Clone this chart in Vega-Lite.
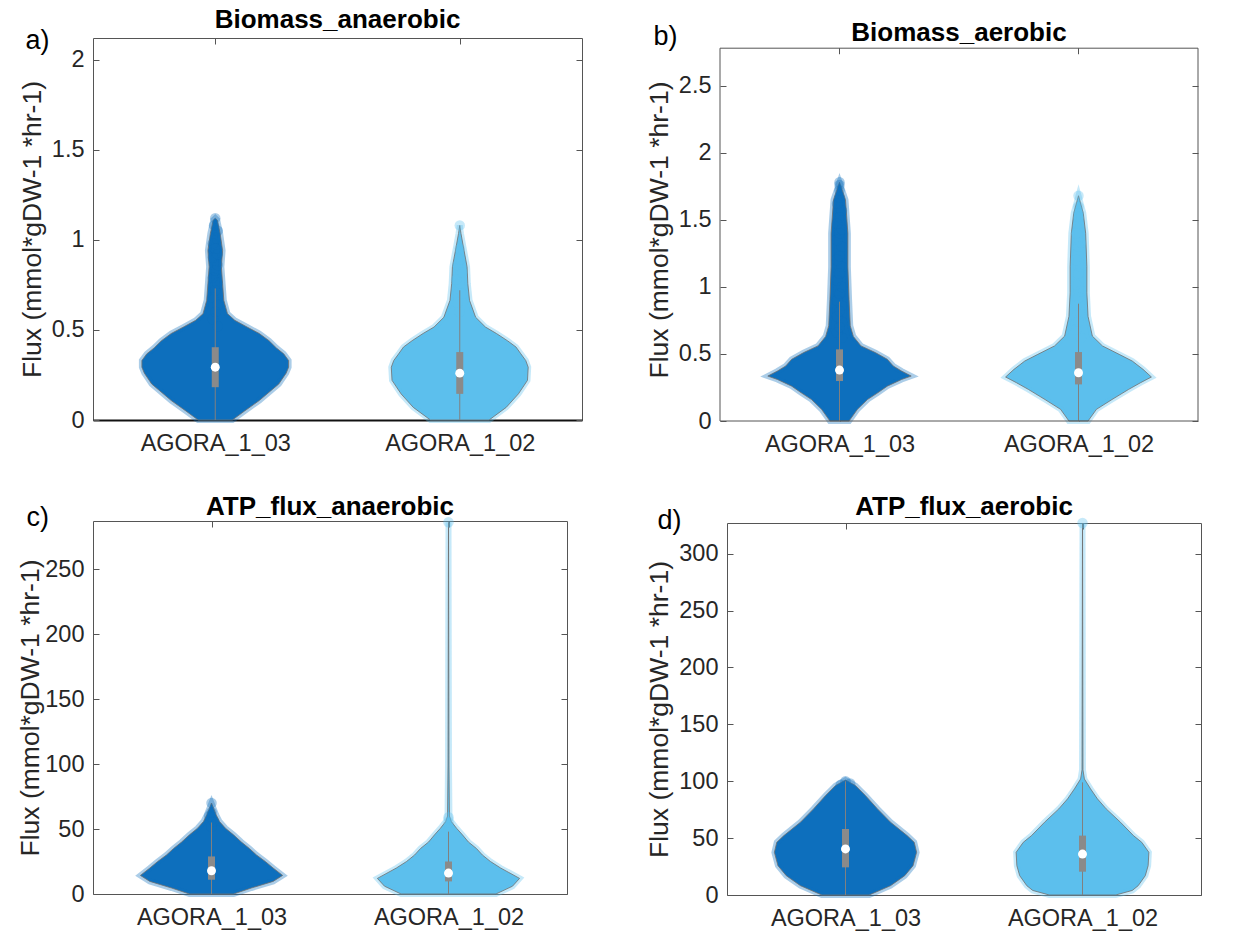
{
"$schema": "https://vega.github.io/schema/vega-lite/v6.json",
"background": "white",
"padding": {"left": 17, "top": 6, "right": 5, "bottom": 3},
"columns": 2,
"align": "none",
"spacing": {"row": 37, "column": 63},
"datasets": {
"violin": [
{"p":"a","g":"AGORA_1_03","y":0,"lo":0.93,"hi":1.07},
{"p":"a","g":"AGORA_1_03","y":0.05,"lo":0.88,"hi":1.12},
{"p":"a","g":"AGORA_1_03","y":0.108,"lo":0.82,"hi":1.18},
{"p":"a","g":"AGORA_1_03","y":0.2,"lo":0.74,"hi":1.26},
{"p":"a","g":"AGORA_1_03","y":0.26,"lo":0.71,"hi":1.29},
{"p":"a","g":"AGORA_1_03","y":0.293,"lo":0.70,"hi":1.30},
{"p":"a","g":"AGORA_1_03","y":0.33,"lo":0.70,"hi":1.30},
{"p":"a","g":"AGORA_1_03","y":0.367,"lo":0.72,"hi":1.28},
{"p":"a","g":"AGORA_1_03","y":0.40,"lo":0.75,"hi":1.25},
{"p":"a","g":"AGORA_1_03","y":0.44,"lo":0.78,"hi":1.22},
{"p":"a","g":"AGORA_1_03","y":0.48,"lo":0.82,"hi":1.18},
{"p":"a","g":"AGORA_1_03","y":0.516,"lo":0.87,"hi":1.13},
{"p":"a","g":"AGORA_1_03","y":0.553,"lo":0.92,"hi":1.08},
{"p":"a","g":"AGORA_1_03","y":0.59,"lo":0.95,"hi":1.05},
{"p":"a","g":"AGORA_1_03","y":0.664,"lo":0.965,"hi":1.035},
{"p":"a","g":"AGORA_1_03","y":0.757,"lo":0.97,"hi":1.03},
{"p":"a","g":"AGORA_1_03","y":0.85,"lo":0.975,"hi":1.025},
{"p":"a","g":"AGORA_1_03","y":0.94,"lo":0.97,"hi":1.03},
{"p":"a","g":"AGORA_1_03","y":1.035,"lo":0.98,"hi":1.02},
{"p":"a","g":"AGORA_1_03","y":1.11,"lo":0.992,"hi":1.008},
{"p":"a","g":"AGORA_1_03","y":1.12,"lo":1,"hi":1},
{"p":"a","g":"AGORA_1_02","y":0,"lo":1.88,"hi":2.12},
{"p":"a","g":"AGORA_1_02","y":0.07,"lo":1.81,"hi":2.19},
{"p":"a","g":"AGORA_1_02","y":0.145,"lo":1.76,"hi":2.24},
{"p":"a","g":"AGORA_1_02","y":0.22,"lo":1.723,"hi":2.277},
{"p":"a","g":"AGORA_1_02","y":0.293,"lo":1.72,"hi":2.28},
{"p":"a","g":"AGORA_1_02","y":0.33,"lo":1.73,"hi":2.27},
{"p":"a","g":"AGORA_1_02","y":0.367,"lo":1.75,"hi":2.25},
{"p":"a","g":"AGORA_1_02","y":0.405,"lo":1.77,"hi":2.23},
{"p":"a","g":"AGORA_1_02","y":0.44,"lo":1.805,"hi":2.195},
{"p":"a","g":"AGORA_1_02","y":0.48,"lo":1.85,"hi":2.15},
{"p":"a","g":"AGORA_1_02","y":0.516,"lo":1.895,"hi":2.105},
{"p":"a","g":"AGORA_1_02","y":0.57,"lo":1.935,"hi":2.065},
{"p":"a","g":"AGORA_1_02","y":0.664,"lo":1.96,"hi":2.04},
{"p":"a","g":"AGORA_1_02","y":0.757,"lo":1.967,"hi":2.033},
{"p":"a","g":"AGORA_1_02","y":0.85,"lo":1.97,"hi":2.03},
{"p":"a","g":"AGORA_1_02","y":0.96,"lo":1.985,"hi":2.015},
{"p":"a","g":"AGORA_1_02","y":1.035,"lo":1.995,"hi":2.005},
{"p":"a","g":"AGORA_1_02","y":1.08,"lo":2,"hi":2},
{"p":"b","g":"AGORA_1_03","y":0,"lo":0.96,"hi":1.04},
{"p":"b","g":"AGORA_1_03","y":0.087,"lo":0.925,"hi":1.075},
{"p":"b","g":"AGORA_1_03","y":0.16,"lo":0.883,"hi":1.117},
{"p":"b","g":"AGORA_1_03","y":0.21,"lo":0.84,"hi":1.16},
{"p":"b","g":"AGORA_1_03","y":0.26,"lo":0.8,"hi":1.2},
{"p":"b","g":"AGORA_1_03","y":0.31,"lo":0.74,"hi":1.26},
{"p":"b","g":"AGORA_1_03","y":0.335,"lo":0.70,"hi":1.30},
{"p":"b","g":"AGORA_1_03","y":0.372,"lo":0.74,"hi":1.26},
{"p":"b","g":"AGORA_1_03","y":0.41,"lo":0.775,"hi":1.225},
{"p":"b","g":"AGORA_1_03","y":0.46,"lo":0.8,"hi":1.2},
{"p":"b","g":"AGORA_1_03","y":0.51,"lo":0.85,"hi":1.15},
{"p":"b","g":"AGORA_1_03","y":0.56,"lo":0.91,"hi":1.09},
{"p":"b","g":"AGORA_1_03","y":0.63,"lo":0.942,"hi":1.058},
{"p":"b","g":"AGORA_1_03","y":0.71,"lo":0.955,"hi":1.045},
{"p":"b","g":"AGORA_1_03","y":0.906,"lo":0.96,"hi":1.04},
{"p":"b","g":"AGORA_1_03","y":1.15,"lo":0.965,"hi":1.035},
{"p":"b","g":"AGORA_1_03","y":1.40,"lo":0.965,"hi":1.035},
{"p":"b","g":"AGORA_1_03","y":1.65,"lo":0.975,"hi":1.025},
{"p":"b","g":"AGORA_1_03","y":1.78,"lo":1,"hi":1},
{"p":"b","g":"AGORA_1_02","y":0,"lo":1.96,"hi":2.04},
{"p":"b","g":"AGORA_1_02","y":0.087,"lo":1.925,"hi":2.075},
{"p":"b","g":"AGORA_1_02","y":0.16,"lo":1.86,"hi":2.14},
{"p":"b","g":"AGORA_1_02","y":0.236,"lo":1.79,"hi":2.21},
{"p":"b","g":"AGORA_1_02","y":0.286,"lo":1.74,"hi":2.26},
{"p":"b","g":"AGORA_1_02","y":0.328,"lo":1.695,"hi":2.305},
{"p":"b","g":"AGORA_1_02","y":0.385,"lo":1.73,"hi":2.27},
{"p":"b","g":"AGORA_1_02","y":0.447,"lo":1.775,"hi":2.225},
{"p":"b","g":"AGORA_1_02","y":0.497,"lo":1.83,"hi":2.17},
{"p":"b","g":"AGORA_1_02","y":0.56,"lo":1.9,"hi":2.1},
{"p":"b","g":"AGORA_1_02","y":0.633,"lo":1.942,"hi":2.058},
{"p":"b","g":"AGORA_1_02","y":0.78,"lo":1.96,"hi":2.04},
{"p":"b","g":"AGORA_1_02","y":0.956,"lo":1.965,"hi":2.035},
{"p":"b","g":"AGORA_1_02","y":1.15,"lo":1.965,"hi":2.035},
{"p":"b","g":"AGORA_1_02","y":1.40,"lo":1.97,"hi":2.03},
{"p":"b","g":"AGORA_1_02","y":1.55,"lo":1.98,"hi":2.02},
{"p":"b","g":"AGORA_1_02","y":1.68,"lo":2,"hi":2},
{"p":"c","g":"AGORA_1_03","y":0,"lo":0.907,"hi":1.093},
{"p":"c","g":"AGORA_1_03","y":4.6,"lo":0.832,"hi":1.168},
{"p":"c","g":"AGORA_1_03","y":9.7,"lo":0.74,"hi":1.26},
{"p":"c","g":"AGORA_1_03","y":14.3,"lo":0.70,"hi":1.30},
{"p":"c","g":"AGORA_1_03","y":20,"lo":0.74,"hi":1.26},
{"p":"c","g":"AGORA_1_03","y":25,"lo":0.773,"hi":1.227},
{"p":"c","g":"AGORA_1_03","y":30,"lo":0.81,"hi":1.19},
{"p":"c","g":"AGORA_1_03","y":35,"lo":0.84,"hi":1.16},
{"p":"c","g":"AGORA_1_03","y":40,"lo":0.874,"hi":1.126},
{"p":"c","g":"AGORA_1_03","y":45.5,"lo":0.907,"hi":1.093},
{"p":"c","g":"AGORA_1_03","y":50.6,"lo":0.941,"hi":1.059},
{"p":"c","g":"AGORA_1_03","y":55.7,"lo":0.966,"hi":1.034},
{"p":"c","g":"AGORA_1_03","y":60.8,"lo":0.98,"hi":1.02},
{"p":"c","g":"AGORA_1_03","y":70,"lo":1,"hi":1},
{"p":"c","g":"AGORA_1_02","y":0,"lo":1.8,"hi":2.2},
{"p":"c","g":"AGORA_1_02","y":6,"lo":1.73,"hi":2.27},
{"p":"c","g":"AGORA_1_02","y":12,"lo":1.70,"hi":2.30},
{"p":"c","g":"AGORA_1_02","y":20,"lo":1.78,"hi":2.22},
{"p":"c","g":"AGORA_1_02","y":25,"lo":1.823,"hi":2.177},
{"p":"c","g":"AGORA_1_02","y":30,"lo":1.857,"hi":2.143},
{"p":"c","g":"AGORA_1_02","y":35,"lo":1.882,"hi":2.118},
{"p":"c","g":"AGORA_1_02","y":40,"lo":1.916,"hi":2.084},
{"p":"c","g":"AGORA_1_02","y":45.5,"lo":1.941,"hi":2.059},
{"p":"c","g":"AGORA_1_02","y":50.6,"lo":1.966,"hi":2.034},
{"p":"c","g":"AGORA_1_02","y":55.7,"lo":1.988,"hi":2.012},
{"p":"c","g":"AGORA_1_02","y":60,"lo":1.996,"hi":2.004},
{"p":"c","g":"AGORA_1_02","y":100,"lo":1.998,"hi":2.002},
{"p":"c","g":"AGORA_1_02","y":286,"lo":2,"hi":2},
{"p":"d","g":"AGORA_1_03","y":0,"lo":0.90,"hi":1.10},
{"p":"d","g":"AGORA_1_03","y":8.2,"lo":0.81,"hi":1.19},
{"p":"d","g":"AGORA_1_03","y":17,"lo":0.75,"hi":1.25},
{"p":"d","g":"AGORA_1_03","y":25.8,"lo":0.715,"hi":1.285},
{"p":"d","g":"AGORA_1_03","y":37.5,"lo":0.70,"hi":1.30},
{"p":"d","g":"AGORA_1_03","y":46.3,"lo":0.71,"hi":1.29},
{"p":"d","g":"AGORA_1_03","y":52.2,"lo":0.74,"hi":1.26},
{"p":"d","g":"AGORA_1_03","y":64,"lo":0.81,"hi":1.19},
{"p":"d","g":"AGORA_1_03","y":75.7,"lo":0.865,"hi":1.135},
{"p":"d","g":"AGORA_1_03","y":87.4,"lo":0.916,"hi":1.084},
{"p":"d","g":"AGORA_1_03","y":96.2,"lo":0.958,"hi":1.042},
{"p":"d","g":"AGORA_1_03","y":101,"lo":1,"hi":1},
{"p":"d","g":"AGORA_1_02","y":0,"lo":1.86,"hi":2.14},
{"p":"d","g":"AGORA_1_02","y":4,"lo":1.79,"hi":2.21},
{"p":"d","g":"AGORA_1_02","y":8.2,"lo":1.765,"hi":2.235},
{"p":"d","g":"AGORA_1_02","y":17,"lo":1.735,"hi":2.265},
{"p":"d","g":"AGORA_1_02","y":25.8,"lo":1.723,"hi":2.277},
{"p":"d","g":"AGORA_1_02","y":37.5,"lo":1.72,"hi":2.28},
{"p":"d","g":"AGORA_1_02","y":46.3,"lo":1.75,"hi":2.25},
{"p":"d","g":"AGORA_1_02","y":52.2,"lo":1.785,"hi":2.215},
{"p":"d","g":"AGORA_1_02","y":64,"lo":1.84,"hi":2.16},
{"p":"d","g":"AGORA_1_02","y":75.7,"lo":1.9,"hi":2.1},
{"p":"d","g":"AGORA_1_02","y":84.5,"lo":1.937,"hi":2.063},
{"p":"d","g":"AGORA_1_02","y":93.3,"lo":1.966,"hi":2.034},
{"p":"d","g":"AGORA_1_02","y":102,"lo":1.992,"hi":2.008},
{"p":"d","g":"AGORA_1_02","y":110,"lo":1.998,"hi":2.002},
{"p":"d","g":"AGORA_1_02","y":327,"lo":2,"hi":2}
],
"stats": [
{"p":"a","g":"AGORA_1_03","x":1,"q1":0.182,"med":0.293,"q3":0.404,"wlo":0,"whi":0.73},
{"p":"a","g":"AGORA_1_02","x":2,"q1":0.145,"med":0.26,"q3":0.377,"wlo":0,"whi":0.72},
{"p":"b","g":"AGORA_1_03","x":1,"q1":0.298,"med":0.38,"q3":0.534,"wlo":0,"whi":0.89},
{"p":"b","g":"AGORA_1_02","x":2,"q1":0.273,"med":0.36,"q3":0.514,"wlo":0,"whi":0.875},
{"p":"c","g":"AGORA_1_03","x":1,"q1":11,"med":17.9,"q3":28.9,"wlo":0,"whi":55},
{"p":"c","g":"AGORA_1_02","x":2,"q1":9.7,"med":16.1,"q3":25,"wlo":0,"whi":48},
{"p":"d","g":"AGORA_1_03","x":1,"q1":24.3,"med":40.5,"q3":58,"wlo":0,"whi":100},
{"p":"d","g":"AGORA_1_02","x":2,"q1":20.5,"med":36,"q3":52.2,"wlo":0,"whi":99}
],
"pts": [
{"p":"a","g":"AGORA_1_03","x":1.01,"y":0.52},{"p":"a","g":"AGORA_1_03","x":0.99,"y":0.56},{"p":"a","g":"AGORA_1_03","x":1.0,"y":0.6},
{"p":"a","g":"AGORA_1_03","x":1.01,"y":0.64},{"p":"a","g":"AGORA_1_03","x":0.99,"y":0.68},{"p":"a","g":"AGORA_1_03","x":1.0,"y":0.72},
{"p":"a","g":"AGORA_1_03","x":1.01,"y":0.76},{"p":"a","g":"AGORA_1_03","x":0.99,"y":0.79},{"p":"a","g":"AGORA_1_03","x":1.0,"y":0.83},
{"p":"a","g":"AGORA_1_03","x":1.01,"y":0.86},{"p":"a","g":"AGORA_1_03","x":0.99,"y":0.9},{"p":"a","g":"AGORA_1_03","x":1.01,"y":0.92},
{"p":"a","g":"AGORA_1_03","x":1.0,"y":0.95},{"p":"a","g":"AGORA_1_03","x":0.99,"y":0.98},{"p":"a","g":"AGORA_1_03","x":1.0,"y":1.01},
{"p":"a","g":"AGORA_1_03","x":1.01,"y":1.05},{"p":"a","g":"AGORA_1_03","x":0.995,"y":1.08},{"p":"a","g":"AGORA_1_03","x":1.0,"y":1.12},
{"p":"a","g":"AGORA_1_02","x":2.0,"y":0.6},{"p":"a","g":"AGORA_1_02","x":1.99,"y":0.65},{"p":"a","g":"AGORA_1_02","x":2.01,"y":0.7},
{"p":"a","g":"AGORA_1_02","x":2.0,"y":0.76},{"p":"a","g":"AGORA_1_02","x":1.985,"y":0.78},{"p":"a","g":"AGORA_1_02","x":2.01,"y":0.82},
{"p":"a","g":"AGORA_1_02","x":1.99,"y":0.86},{"p":"a","g":"AGORA_1_02","x":2.0,"y":0.89},{"p":"a","g":"AGORA_1_02","x":2.0,"y":0.95},
{"p":"a","g":"AGORA_1_02","x":2.0,"y":1.08},
{"p":"b","g":"AGORA_1_03","x":1.01,"y":0.62},{"p":"b","g":"AGORA_1_03","x":0.99,"y":0.66},{"p":"b","g":"AGORA_1_03","x":1.0,"y":0.7},
{"p":"b","g":"AGORA_1_03","x":1.01,"y":0.74},{"p":"b","g":"AGORA_1_03","x":0.99,"y":0.78},{"p":"b","g":"AGORA_1_03","x":1.0,"y":0.82},
{"p":"b","g":"AGORA_1_03","x":1.01,"y":0.86},{"p":"b","g":"AGORA_1_03","x":0.99,"y":0.9},{"p":"b","g":"AGORA_1_03","x":1.0,"y":0.95},
{"p":"b","g":"AGORA_1_03","x":1.01,"y":1.0},{"p":"b","g":"AGORA_1_03","x":0.99,"y":1.05},{"p":"b","g":"AGORA_1_03","x":1.0,"y":1.1},
{"p":"b","g":"AGORA_1_03","x":1.01,"y":1.15},{"p":"b","g":"AGORA_1_03","x":0.99,"y":1.2},{"p":"b","g":"AGORA_1_03","x":1.0,"y":1.23},
{"p":"b","g":"AGORA_1_03","x":1.01,"y":1.3},{"p":"b","g":"AGORA_1_03","x":0.99,"y":1.35},{"p":"b","g":"AGORA_1_03","x":1.0,"y":1.4},
{"p":"b","g":"AGORA_1_03","x":1.01,"y":1.43},{"p":"b","g":"AGORA_1_03","x":0.99,"y":1.47},{"p":"b","g":"AGORA_1_03","x":1.0,"y":1.52},
{"p":"b","g":"AGORA_1_03","x":1.01,"y":1.57},{"p":"b","g":"AGORA_1_03","x":0.99,"y":1.62},{"p":"b","g":"AGORA_1_03","x":1.0,"y":1.67},
{"p":"b","g":"AGORA_1_03","x":1.0,"y":1.72},{"p":"b","g":"AGORA_1_03","x":1.0,"y":1.76},{"p":"b","g":"AGORA_1_03","x":1.0,"y":1.78},
{"p":"b","g":"AGORA_1_02","x":2.01,"y":0.62},{"p":"b","g":"AGORA_1_02","x":1.99,"y":0.68},{"p":"b","g":"AGORA_1_02","x":2.0,"y":0.74},
{"p":"b","g":"AGORA_1_02","x":2.01,"y":0.8},{"p":"b","g":"AGORA_1_02","x":1.99,"y":0.86},{"p":"b","g":"AGORA_1_02","x":2.0,"y":0.92},
{"p":"b","g":"AGORA_1_02","x":2.01,"y":0.97},{"p":"b","g":"AGORA_1_02","x":1.99,"y":1.02},{"p":"b","g":"AGORA_1_02","x":2.0,"y":1.1},
{"p":"b","g":"AGORA_1_02","x":2.01,"y":1.15},{"p":"b","g":"AGORA_1_02","x":1.99,"y":1.2},{"p":"b","g":"AGORA_1_02","x":2.0,"y":1.3},
{"p":"b","g":"AGORA_1_02","x":2.01,"y":1.33},{"p":"b","g":"AGORA_1_02","x":1.99,"y":1.4},{"p":"b","g":"AGORA_1_02","x":2.0,"y":1.47},
{"p":"b","g":"AGORA_1_02","x":2.0,"y":1.52},{"p":"b","g":"AGORA_1_02","x":2.0,"y":1.55},{"p":"b","g":"AGORA_1_02","x":2.0,"y":1.6},
{"p":"b","g":"AGORA_1_02","x":2.0,"y":1.68},
{"p":"c","g":"AGORA_1_03","x":1.0,"y":52},{"p":"c","g":"AGORA_1_03","x":1.01,"y":56},{"p":"c","g":"AGORA_1_03","x":0.99,"y":60},
{"p":"c","g":"AGORA_1_03","x":1.0,"y":63},{"p":"c","g":"AGORA_1_03","x":1.0,"y":70},
{"p":"c","g":"AGORA_1_02","x":2.0,"y":55},{"p":"c","g":"AGORA_1_02","x":2.0,"y":59},{"p":"c","g":"AGORA_1_02","x":2.0,"y":286},
{"p":"d","g":"AGORA_1_03","x":0.98,"y":97},{"p":"d","g":"AGORA_1_03","x":1.0,"y":100},{"p":"d","g":"AGORA_1_03","x":1.02,"y":98},
{"p":"d","g":"AGORA_1_02","x":2.0,"y":327}
]
},
"concat": [
{
"width": 489, "height": 382,
"title": {"text": "Biomass_anaerobic", "offset": -7},
"layer": [
{"data": {"name": "violin"}, "transform": [{"filter": "datum.p == 'a'"}],
 "mark": {"type": "area", "orient": "horizontal", "strokeWidth": 6, "strokeOpacity": 0.35},
 "encoding": {
  "y": {"field": "y", "type": "quantitative", "scale": {"domain": [0, 2.12], "nice": false, "zero": false},
        "axis": {"orient": "left", "title": "Flux (mmol*gDW-1 *hr-1)", "values": [0, 0.5, 1, 1.5, 2], "format": "~f", "labelPadding": 15, "titlePadding": 5}},
  "x": {"field": "lo", "type": "quantitative", "stack": null, "scale": {"domain": [0.5, 2.5], "nice": false, "zero": false},
        "axis": {"orient": "bottom", "values": [1, 2], "labelExpr": "datum.value == 1 ? 'AGORA_1_03' : 'AGORA_1_02'", "title": null, "labelPadding": 17, "domain": true, "domainColor": "#111", "domainWidth": 2}},
  "x2": {"field": "hi"},
  "color": {"field": "g", "type": "nominal", "scale": {"domain": ["AGORA_1_03", "AGORA_1_02"], "range": ["#0d6fbd", "#5cbfed"]}, "legend": null},
  "stroke": {"field": "g", "type": "nominal", "scale": {"domain": ["AGORA_1_03", "AGORA_1_02"], "range": ["#0d6fbd", "#5cbfed"]}, "legend": null}
 }},
{"data": {"name": "violin"}, "transform": [{"filter": "datum.p == 'a'"}],
 "mark": {"type": "area", "orient": "horizontal", "fillOpacity": 0, "stroke": "#707070", "strokeWidth": 0.8},
 "encoding": {
  "y": {"field": "y", "type": "quantitative", "scale": {"domain": [0, 2.12], "nice": false, "zero": false}, "axis": null},
  "x": {"field": "lo", "type": "quantitative", "stack": null, "scale": {"domain": [0.5, 2.5], "nice": false, "zero": false}, "axis": null},
  "x2": {"field": "hi"},
  "detail": {"field": "g", "type": "nominal"}
 }},
{"data": {"name": "pts"}, "transform": [{"filter": "datum.p == 'a'"}],
 "mark": {"type": "circle", "size": 110, "opacity": 0.35},
 "encoding": {
  "y": {"field": "y", "type": "quantitative", "scale": {"domain": [0, 2.12], "nice": false, "zero": false}, "axis": null},
  "x": {"field": "x", "type": "quantitative", "scale": {"domain": [0.5, 2.5], "nice": false, "zero": false}, "axis": null},
  "color": {"field": "g", "type": "nominal", "scale": {"domain": ["AGORA_1_03", "AGORA_1_02"], "range": ["#0d6fbd", "#5cbfed"]}, "legend": null}
 }},
{"data": {"name": "stats"}, "transform": [{"filter": "datum.p == 'a'"}],
 "mark": {"type": "rule", "color": "#808080", "strokeWidth": 1},
 "encoding": {
  "y": {"field": "wlo", "type": "quantitative", "scale": {"domain": [0, 2.12], "nice": false, "zero": false},
        "axis": {"orient": "right", "values": [0, 0.5, 1, 1.5, 2], "labels": false, "title": null}},
  "y2": {"field": "whi"},
  "x": {"field": "x", "type": "quantitative", "scale": {"domain": [0.5, 2.5], "nice": false, "zero": false},
        "axis": {"orient": "top", "values": [1, 2], "labels": false, "title": "a)", "titleAngle": 0, "titleAlign": "left", "titleBaseline": "middle", "titleX": -68, "titleY": 2, "titleFontSize": 27, "titleColor": "#000"}}
 }},
{"data": {"name": "stats"}, "transform": [{"filter": "datum.p == 'a'"}],
 "mark": {"type": "rule", "color": "#8a8a8a", "strokeWidth": 7},
 "encoding": {
  "y": {"field": "q1", "type": "quantitative", "scale": {"domain": [0, 2.12], "nice": false, "zero": false}, "axis": null},
  "y2": {"field": "q3"},
  "x": {"field": "x", "type": "quantitative", "scale": {"domain": [0.5, 2.5], "nice": false, "zero": false}, "axis": null}
 }},
{"data": {"name": "stats"}, "transform": [{"filter": "datum.p == 'a'"}],
 "mark": {"type": "point", "filled": true, "color": "white", "opacity": 1, "size": 80},
 "encoding": {
  "y": {"field": "med", "type": "quantitative", "scale": {"domain": [0, 2.12], "nice": false, "zero": false}, "axis": null},
  "x": {"field": "x", "type": "quantitative", "scale": {"domain": [0.5, 2.5], "nice": false, "zero": false}, "axis": null}
 }}
],
"resolve": {"axis": {"x": "independent", "y": "independent"}}
},
{
"width": 478, "height": 383,
"view": {"stroke": null},
"title": {"text": "Biomass_aerobic", "offset": -23},
"layer": [
{"data": {"name": "violin"}, "transform": [{"filter": "datum.p == 'b'"}],
 "mark": {"type": "area", "orient": "horizontal", "strokeWidth": 6, "strokeOpacity": 0.35},
 "encoding": {
  "y": {"field": "y", "type": "quantitative", "scale": {"domain": [0, 2.856], "nice": false, "zero": false},
        "axis": {"orient": "left", "title": "Flux (mmol*gDW-1 *hr-1)", "values": [0, 0.5, 1, 1.5, 2, 2.5], "format": "~f", "labelPadding": 15, "titlePadding": 5}},
  "x": {"field": "lo", "type": "quantitative", "stack": null, "scale": {"domain": [0.5, 2.5], "nice": false, "zero": false},
        "axis": {"orient": "bottom", "values": [1, 2], "labelExpr": "datum.value == 1 ? 'AGORA_1_03' : 'AGORA_1_02'", "title": null, "labelPadding": 17}},
  "x2": {"field": "hi"},
  "color": {"field": "g", "type": "nominal", "scale": {"domain": ["AGORA_1_03", "AGORA_1_02"], "range": ["#0d6fbd", "#5cbfed"]}, "legend": null},
  "stroke": {"field": "g", "type": "nominal", "scale": {"domain": ["AGORA_1_03", "AGORA_1_02"], "range": ["#0d6fbd", "#5cbfed"]}, "legend": null}
 }},
{"data": {"name": "violin"}, "transform": [{"filter": "datum.p == 'b'"}],
 "mark": {"type": "area", "orient": "horizontal", "fillOpacity": 0, "stroke": "#707070", "strokeWidth": 0.8},
 "encoding": {
  "y": {"field": "y", "type": "quantitative", "scale": {"domain": [0, 2.856], "nice": false, "zero": false}, "axis": null},
  "x": {"field": "lo", "type": "quantitative", "stack": null, "scale": {"domain": [0.5, 2.5], "nice": false, "zero": false}, "axis": null},
  "x2": {"field": "hi"},
  "detail": {"field": "g", "type": "nominal"}
 }},
{"data": {"name": "pts"}, "transform": [{"filter": "datum.p == 'b'"}],
 "mark": {"type": "circle", "size": 110, "opacity": 0.35},
 "encoding": {
  "y": {"field": "y", "type": "quantitative", "scale": {"domain": [0, 2.856], "nice": false, "zero": false}, "axis": null},
  "x": {"field": "x", "type": "quantitative", "scale": {"domain": [0.5, 2.5], "nice": false, "zero": false}, "axis": null},
  "color": {"field": "g", "type": "nominal", "scale": {"domain": ["AGORA_1_03", "AGORA_1_02"], "range": ["#0d6fbd", "#5cbfed"]}, "legend": null}
 }},
{"data": {"name": "stats"}, "transform": [{"filter": "datum.p == 'b'"}],
 "mark": {"type": "rule", "color": "#808080", "strokeWidth": 1},
 "encoding": {
  "y": {"field": "wlo", "type": "quantitative", "scale": {"domain": [0, 2.856], "nice": false, "zero": false},
        "axis": {"orient": "right", "values": [0, 0.5, 1, 1.5, 2, 2.5], "labels": false, "title": null}},
  "y2": {"field": "whi"},
  "x": {"field": "x", "type": "quantitative", "scale": {"domain": [0.5, 2.5], "nice": false, "zero": false},
        "axis": {"orient": "top", "values": [1, 2], "labels": false, "ticks": false, "title": "b)", "titleAngle": 0, "titleAlign": "left", "titleBaseline": "middle", "titleX": -67, "titleY": -1.3, "titleFontSize": 27, "titleColor": "#000"}}
 }},
{"data": {"name": "stats"}, "transform": [{"filter": "datum.p == 'b'"}],
 "mark": {"type": "rule", "color": "#8a8a8a", "strokeWidth": 7},
 "encoding": {
  "y": {"field": "q1", "type": "quantitative", "scale": {"domain": [0, 2.856], "nice": false, "zero": false}, "axis": null},
  "y2": {"field": "q3"},
  "x": {"field": "x", "type": "quantitative", "scale": {"domain": [0.5, 2.5], "nice": false, "zero": false}, "axis": null}
 }},
{"data": {"name": "stats"}, "transform": [{"filter": "datum.p == 'b'"}],
 "mark": {"type": "point", "filled": true, "color": "white", "opacity": 1, "size": 80},
 "encoding": {
  "y": {"field": "med", "type": "quantitative", "scale": {"domain": [0, 2.856], "nice": false, "zero": false}, "axis": null},
  "x": {"field": "x", "type": "quantitative", "scale": {"domain": [0.5, 2.5], "nice": false, "zero": false}, "axis": null}
 }},
{"data": {"name": "stats"}, "transform": [{"filter": "datum.p == 'b'"}],
 "mark": {"type": "rule", "color": "#555555", "strokeWidth": 1},
 "encoding": {
  "x": {"field": "x", "type": "quantitative", "scale": {"domain": [0.5, 2.5], "nice": false, "zero": false}, "axis": null},
  "y": {"datum": 2.735, "type": "quantitative", "scale": {"domain": [0, 2.856], "nice": false, "zero": false}, "axis": null},
  "y2": {"datum": 2.78}
 }},
{"data": {"values": [{}]},
 "mark": {"type": "rule", "color": "#555555", "strokeWidth": 1},
 "encoding": {
  "y": {"datum": 2.78, "type": "quantitative", "scale": {"domain": [0, 2.856], "nice": false, "zero": false}, "axis": null},
  "x": {"datum": 0.5, "type": "quantitative", "scale": {"domain": [0.5, 2.5], "nice": false, "zero": false}, "axis": null},
  "x2": {"datum": 2.5}
 }},
{"data": {"values": [{}]},
 "mark": {"type": "rule", "color": "#555555", "strokeWidth": 1},
 "encoding": {
  "y": {"datum": 0, "type": "quantitative", "scale": {"domain": [0, 2.856], "nice": false, "zero": false}, "axis": null},
  "x": {"datum": 0.5, "type": "quantitative", "scale": {"domain": [0.5, 2.5], "nice": false, "zero": false}, "axis": null},
  "x2": {"datum": 2.5}
 }},
{"data": {"values": [{}]},
 "mark": {"type": "rule", "color": "#555555", "strokeWidth": 1},
 "encoding": {
  "x": {"datum": 0.5, "type": "quantitative", "scale": {"domain": [0.5, 2.5], "nice": false, "zero": false}, "axis": null},
  "y": {"datum": 0, "type": "quantitative", "scale": {"domain": [0, 2.856], "nice": false, "zero": false}, "axis": null},
  "y2": {"datum": 2.78}
 }},
{"data": {"values": [{}]},
 "mark": {"type": "rule", "color": "#555555", "strokeWidth": 1},
 "encoding": {
  "x": {"datum": 2.5, "type": "quantitative", "scale": {"domain": [0.5, 2.5], "nice": false, "zero": false}, "axis": null},
  "y": {"datum": 0, "type": "quantitative", "scale": {"domain": [0, 2.856], "nice": false, "zero": false}, "axis": null},
  "y2": {"datum": 2.78}
 }}
],
"resolve": {"axis": {"x": "independent", "y": "independent"}}
},
{
"width": 474, "height": 373,
"title": {"text": "ATP_flux_anaerobic", "offset": -17},
"layer": [
{"data": {"name": "violin"}, "transform": [{"filter": "datum.p == 'c'"}],
 "mark": {"type": "area", "orient": "horizontal", "strokeWidth": 6, "strokeOpacity": 0.35},
 "encoding": {
  "y": {"field": "y", "type": "quantitative", "scale": {"domain": [0, 287], "nice": false, "zero": false},
        "axis": {"orient": "left", "title": "Flux (mmol*gDW-1 *hr-1)", "values": [0, 50, 100, 150, 200, 250], "format": "~f", "labelPadding": 15, "titlePadding": 0}},
  "x": {"field": "lo", "type": "quantitative", "stack": null, "scale": {"domain": [0.5, 2.5], "nice": false, "zero": false},
        "axis": {"orient": "bottom", "values": [1, 2], "labelExpr": "datum.value == 1 ? 'AGORA_1_03' : 'AGORA_1_02'", "title": null, "labelPadding": 17}},
  "x2": {"field": "hi"},
  "color": {"field": "g", "type": "nominal", "scale": {"domain": ["AGORA_1_03", "AGORA_1_02"], "range": ["#0d6fbd", "#5cbfed"]}, "legend": null},
  "stroke": {"field": "g", "type": "nominal", "scale": {"domain": ["AGORA_1_03", "AGORA_1_02"], "range": ["#0d6fbd", "#5cbfed"]}, "legend": null}
 }},
{"data": {"name": "violin"}, "transform": [{"filter": "datum.p == 'c'"}],
 "mark": {"type": "area", "orient": "horizontal", "fillOpacity": 0, "stroke": "#707070", "strokeWidth": 0.8},
 "encoding": {
  "y": {"field": "y", "type": "quantitative", "scale": {"domain": [0, 287], "nice": false, "zero": false}, "axis": null},
  "x": {"field": "lo", "type": "quantitative", "stack": null, "scale": {"domain": [0.5, 2.5], "nice": false, "zero": false}, "axis": null},
  "x2": {"field": "hi"},
  "detail": {"field": "g", "type": "nominal"}
 }},
{"data": {"name": "pts"}, "transform": [{"filter": "datum.p == 'c'"}],
 "mark": {"type": "circle", "size": 110, "opacity": 0.35},
 "encoding": {
  "y": {"field": "y", "type": "quantitative", "scale": {"domain": [0, 287], "nice": false, "zero": false}, "axis": null},
  "x": {"field": "x", "type": "quantitative", "scale": {"domain": [0.5, 2.5], "nice": false, "zero": false}, "axis": null},
  "color": {"field": "g", "type": "nominal", "scale": {"domain": ["AGORA_1_03", "AGORA_1_02"], "range": ["#0d6fbd", "#5cbfed"]}, "legend": null}
 }},
{"data": {"name": "stats"}, "transform": [{"filter": "datum.p == 'c'"}],
 "mark": {"type": "rule", "color": "#808080", "strokeWidth": 1},
 "encoding": {
  "y": {"field": "wlo", "type": "quantitative", "scale": {"domain": [0, 287], "nice": false, "zero": false},
        "axis": {"orient": "right", "values": [0, 50, 100, 150, 200, 250], "labels": false, "title": null}},
  "y2": {"field": "whi"},
  "x": {"field": "x", "type": "quantitative", "scale": {"domain": [0.5, 2.5], "nice": false, "zero": false},
        "axis": {"orient": "top", "values": [1, 2], "labels": false, "title": "c)", "titleAngle": 0, "titleAlign": "left", "titleBaseline": "middle", "titleX": -67, "titleY": -3.7, "titleFontSize": 27, "titleColor": "#000"}}
 }},
{"data": {"name": "stats"}, "transform": [{"filter": "datum.p == 'c'"}],
 "mark": {"type": "rule", "color": "#8a8a8a", "strokeWidth": 7},
 "encoding": {
  "y": {"field": "q1", "type": "quantitative", "scale": {"domain": [0, 287], "nice": false, "zero": false}, "axis": null},
  "y2": {"field": "q3"},
  "x": {"field": "x", "type": "quantitative", "scale": {"domain": [0.5, 2.5], "nice": false, "zero": false}, "axis": null}
 }},
{"data": {"name": "stats"}, "transform": [{"filter": "datum.p == 'c'"}],
 "mark": {"type": "point", "filled": true, "color": "white", "opacity": 1, "size": 80},
 "encoding": {
  "y": {"field": "med", "type": "quantitative", "scale": {"domain": [0, 287], "nice": false, "zero": false}, "axis": null},
  "x": {"field": "x", "type": "quantitative", "scale": {"domain": [0.5, 2.5], "nice": false, "zero": false}, "axis": null}
 }}
],
"resolve": {"axis": {"x": "independent", "y": "independent"}}
},
{
"width": 474, "height": 372,
"title": {"text": "ATP_flux_aerobic", "offset": -14},
"layer": [
{"data": {"name": "violin"}, "transform": [{"filter": "datum.p == 'd'"}],
 "mark": {"type": "area", "orient": "horizontal", "strokeWidth": 6, "strokeOpacity": 0.35},
 "encoding": {
  "y": {"field": "y", "type": "quantitative", "scale": {"domain": [0, 327], "nice": false, "zero": false},
        "axis": {"orient": "left", "title": "Flux (mmol*gDW-1 *hr-1)", "values": [0, 50, 100, 150, 200, 250, 300], "format": "~f", "labelPadding": 15, "titlePadding": 5}},
  "x": {"field": "lo", "type": "quantitative", "stack": null, "scale": {"domain": [0.5, 2.5], "nice": false, "zero": false},
        "axis": {"orient": "bottom", "values": [1, 2], "labelExpr": "datum.value == 1 ? 'AGORA_1_03' : 'AGORA_1_02'", "title": null, "labelPadding": 17}},
  "x2": {"field": "hi"},
  "color": {"field": "g", "type": "nominal", "scale": {"domain": ["AGORA_1_03", "AGORA_1_02"], "range": ["#0d6fbd", "#5cbfed"]}, "legend": null},
  "stroke": {"field": "g", "type": "nominal", "scale": {"domain": ["AGORA_1_03", "AGORA_1_02"], "range": ["#0d6fbd", "#5cbfed"]}, "legend": null}
 }},
{"data": {"name": "violin"}, "transform": [{"filter": "datum.p == 'd'"}],
 "mark": {"type": "area", "orient": "horizontal", "fillOpacity": 0, "stroke": "#707070", "strokeWidth": 0.8},
 "encoding": {
  "y": {"field": "y", "type": "quantitative", "scale": {"domain": [0, 327], "nice": false, "zero": false}, "axis": null},
  "x": {"field": "lo", "type": "quantitative", "stack": null, "scale": {"domain": [0.5, 2.5], "nice": false, "zero": false}, "axis": null},
  "x2": {"field": "hi"},
  "detail": {"field": "g", "type": "nominal"}
 }},
{"data": {"name": "pts"}, "transform": [{"filter": "datum.p == 'd'"}],
 "mark": {"type": "circle", "size": 110, "opacity": 0.35},
 "encoding": {
  "y": {"field": "y", "type": "quantitative", "scale": {"domain": [0, 327], "nice": false, "zero": false}, "axis": null},
  "x": {"field": "x", "type": "quantitative", "scale": {"domain": [0.5, 2.5], "nice": false, "zero": false}, "axis": null},
  "color": {"field": "g", "type": "nominal", "scale": {"domain": ["AGORA_1_03", "AGORA_1_02"], "range": ["#0d6fbd", "#5cbfed"]}, "legend": null}
 }},
{"data": {"name": "stats"}, "transform": [{"filter": "datum.p == 'd'"}],
 "mark": {"type": "rule", "color": "#808080", "strokeWidth": 1},
 "encoding": {
  "y": {"field": "wlo", "type": "quantitative", "scale": {"domain": [0, 327], "nice": false, "zero": false},
        "axis": {"orient": "right", "values": [0, 50, 100, 150, 200, 250, 300], "labels": false, "title": null}},
  "y2": {"field": "whi"},
  "x": {"field": "x", "type": "quantitative", "scale": {"domain": [0.5, 2.5], "nice": false, "zero": false},
        "axis": {"orient": "top", "values": [1, 2], "labels": false, "title": "d)", "titleAngle": 0, "titleAlign": "left", "titleBaseline": "middle", "titleX": -70, "titleY": -3, "titleFontSize": 27, "titleColor": "#000"}}
 }},
{"data": {"name": "stats"}, "transform": [{"filter": "datum.p == 'd'"}],
 "mark": {"type": "rule", "color": "#8a8a8a", "strokeWidth": 7},
 "encoding": {
  "y": {"field": "q1", "type": "quantitative", "scale": {"domain": [0, 327], "nice": false, "zero": false}, "axis": null},
  "y2": {"field": "q3"},
  "x": {"field": "x", "type": "quantitative", "scale": {"domain": [0.5, 2.5], "nice": false, "zero": false}, "axis": null}
 }},
{"data": {"name": "stats"}, "transform": [{"filter": "datum.p == 'd'"}],
 "mark": {"type": "point", "filled": true, "color": "white", "opacity": 1, "size": 80},
 "encoding": {
  "y": {"field": "med", "type": "quantitative", "scale": {"domain": [0, 327], "nice": false, "zero": false}, "axis": null},
  "x": {"field": "x", "type": "quantitative", "scale": {"domain": [0.5, 2.5], "nice": false, "zero": false}, "axis": null}
 }}
],
"resolve": {"axis": {"x": "independent", "y": "independent"}}
}
],
"config": {
 "font": "Liberation Sans",
 "view": {"stroke": "#555555", "strokeWidth": 1},
 "axis": {"grid": false, "domain": false, "labelFont": "Liberation Sans", "labelFontSize": 23.5, "labelColor": "#262626",
          "titleFont": "Liberation Sans", "titleFontSize": 26.5, "titleFontWeight": "normal", "titleColor": "#262626",
          "tickColor": "#555555", "tickSize": -6, "tickWidth": 1},
 "title": {"font": "Liberation Sans", "fontSize": 26, "fontWeight": "bold", "color": "#000", "anchor": "middle", "frame": "group", "baseline": "bottom"}
}
}
